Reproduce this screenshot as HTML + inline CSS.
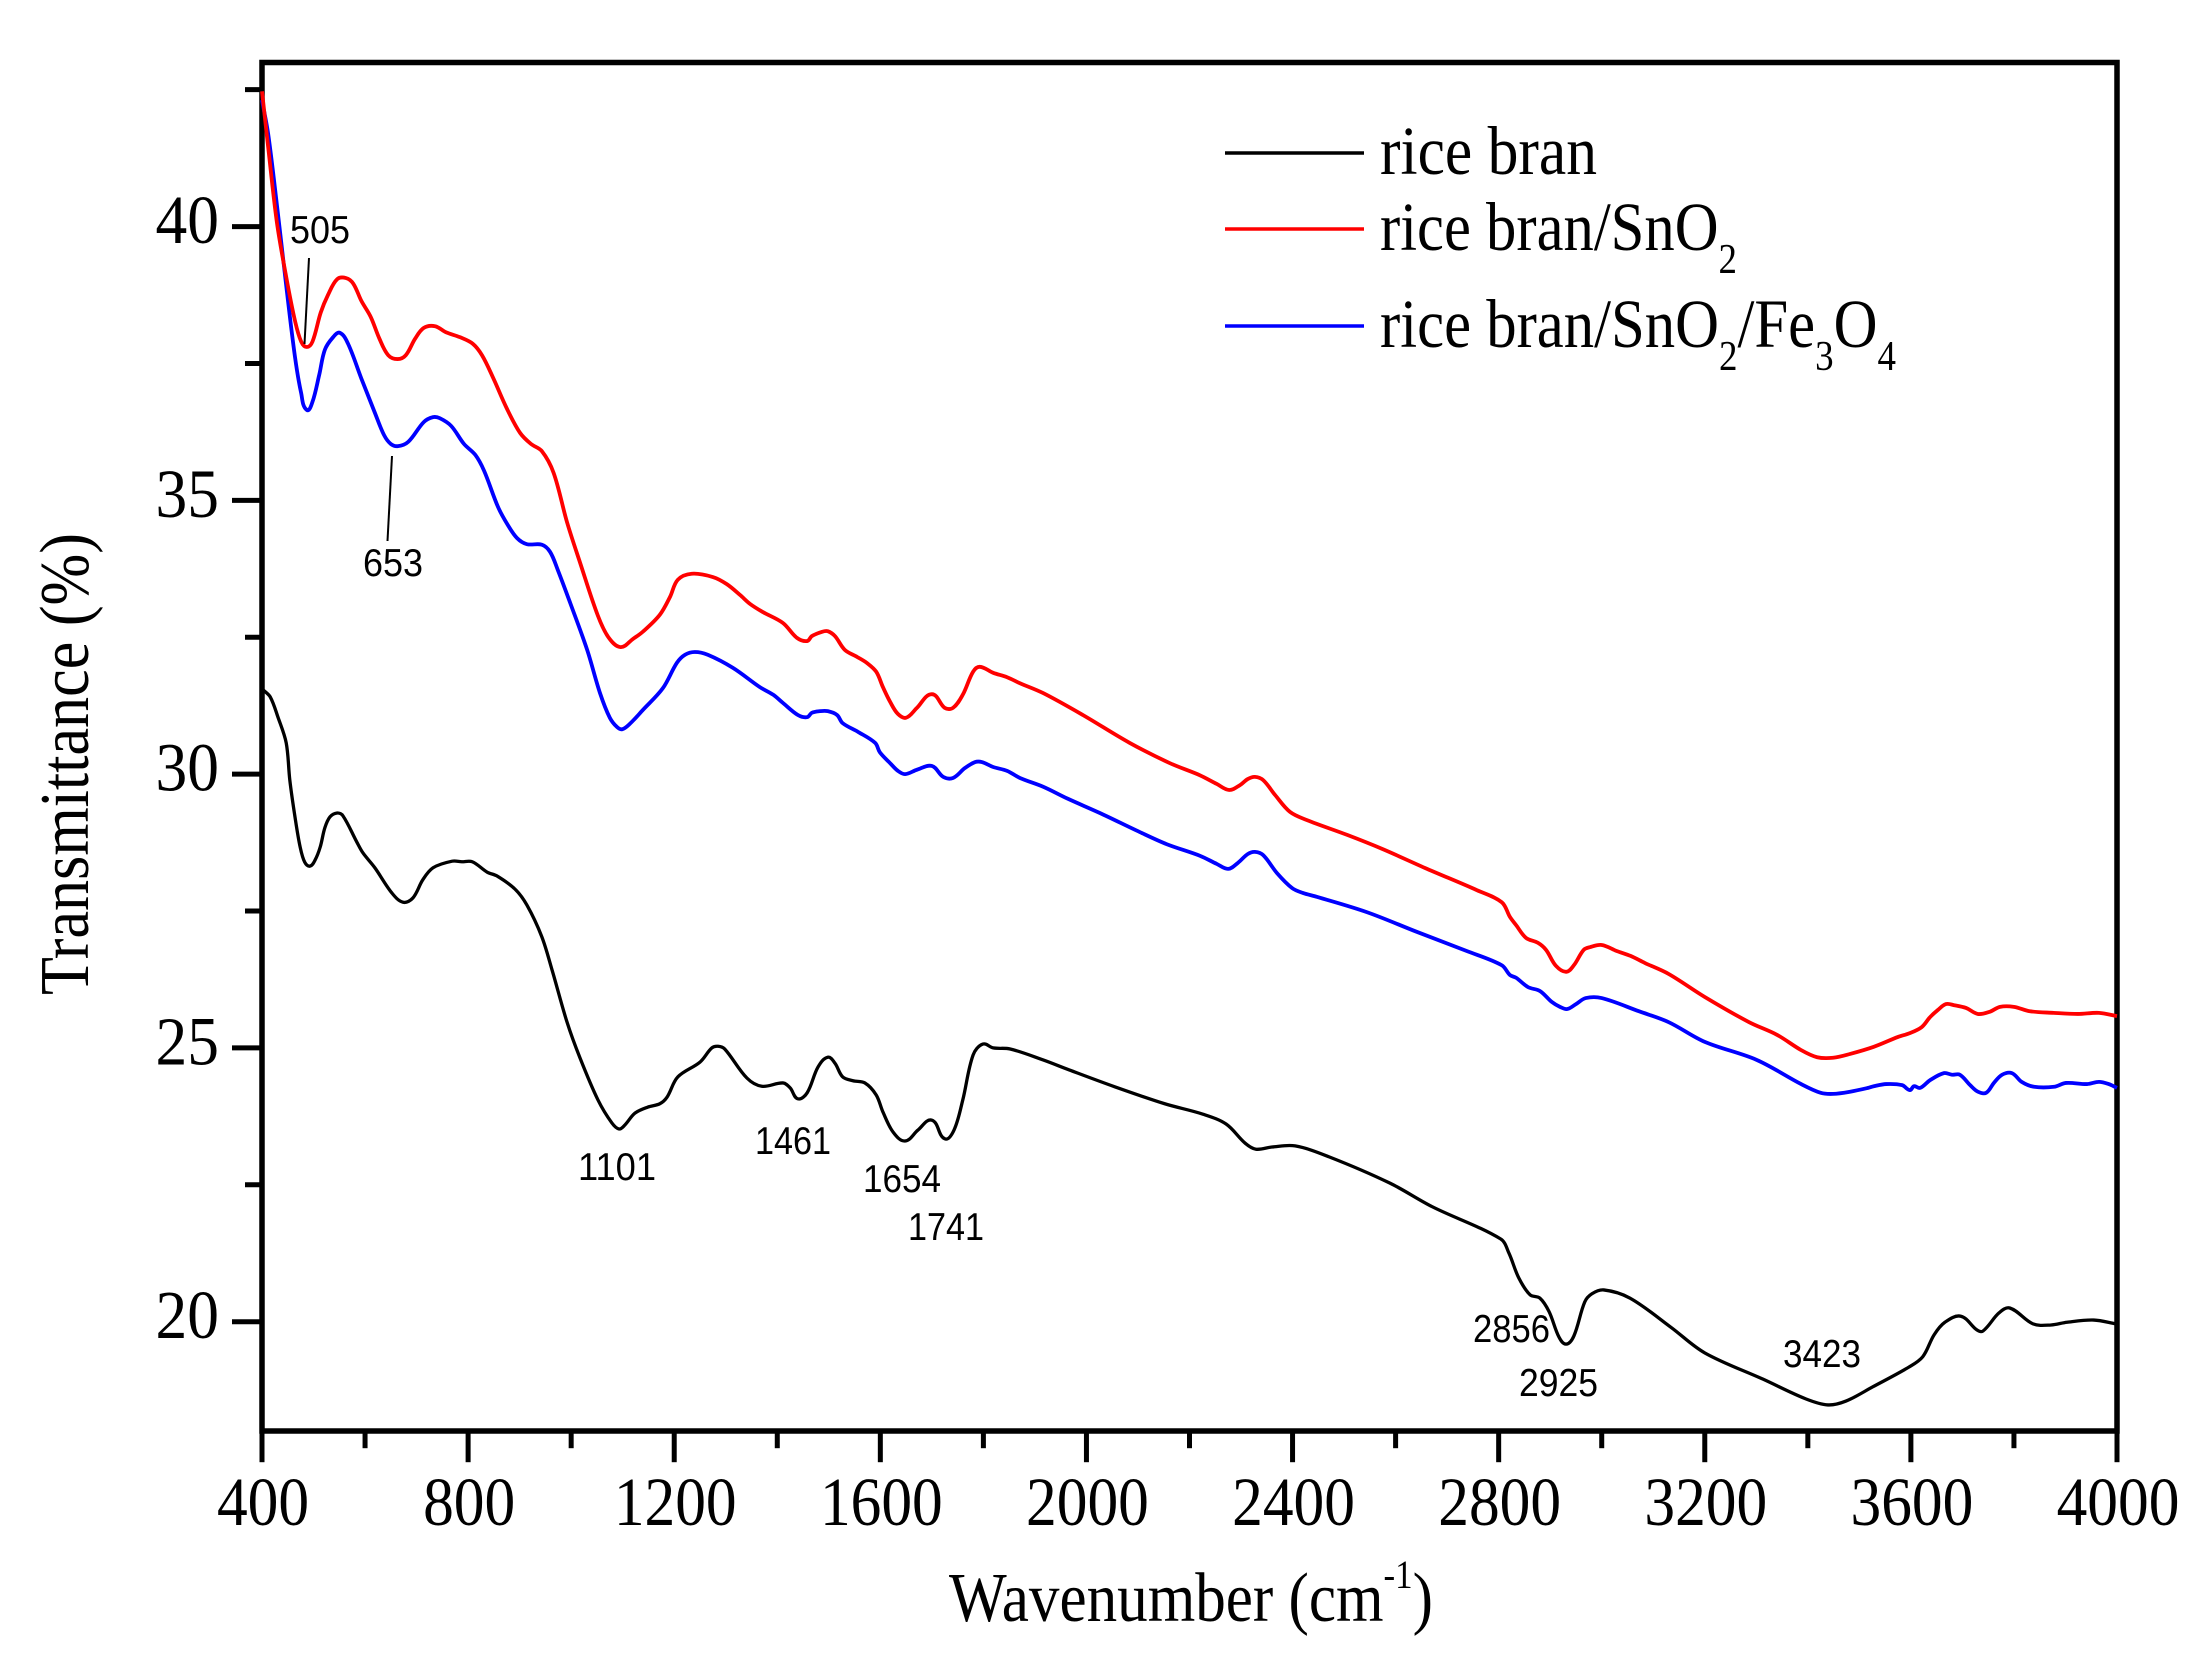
<!DOCTYPE html>
<html lang="en">
<head>
<meta charset="utf-8">
<title>FTIR transmittance spectra</title>
<style>
html,body{margin:0;padding:0;background:#fff;}
body{width:2205px;height:1674px;overflow:hidden;}
svg{display:block;}
.serif{font-family:"Liberation Serif","Times New Roman",serif;fill:#000;}
.sans{font-family:"Liberation Sans",Arial,sans-serif;fill:#000;font-size:39px;}
</style>
</head>
<body>
<svg id="chart" xmlns="http://www.w3.org/2000/svg" width="2205" height="1674" viewBox="0 0 2205 1674">
  <rect x="0" y="0" width="2205" height="1674" fill="#fff"/>
  <g id="ticks"></g>
  <g id="series"></g>
  <rect x="262" y="62.5" width="1855" height="1368.5" fill="none" stroke="#000" stroke-width="5.5"/>
  <g id="series-top"></g>

  <text class="serif" font-size="70" transform="translate(88,995) rotate(-90)" textLength="462" lengthAdjust="spacingAndGlyphs">Transmittance (%)</text>
  <text class="serif" font-size="70" x="949" y="1621" textLength="484" lengthAdjust="spacingAndGlyphs">Wavenumber (cm<tspan font-size="40" dy="-33">-1</tspan><tspan dy="33">)</tspan></text>

  <g>
    <g>
      <line x1="1225" x2="1364" y1="153" y2="153" stroke="#000" stroke-width="3.5"/>
      <text class="serif" font-size="69" x="1380" y="174" textLength="217" lengthAdjust="spacingAndGlyphs">rice bran</text>
    </g>
    <g>
      <line x1="1225" x2="1364" y1="229" y2="229" stroke="#f00" stroke-width="3.5"/>
      <text class="serif" font-size="69" x="1380" y="250" textLength="357" lengthAdjust="spacingAndGlyphs">rice bran/SnO<tspan font-size="42" dy="23">2</tspan></text>
    </g>
    <g>
      <line x1="1225" x2="1364" y1="326" y2="326" stroke="#00f" stroke-width="3.5"/>
      <text class="serif" font-size="69" x="1380" y="347" textLength="516" lengthAdjust="spacingAndGlyphs">rice bran/SnO<tspan font-size="42" dy="23">2</tspan><tspan dy="-23">/Fe</tspan><tspan font-size="42" dy="23">3</tspan><tspan dy="-23">O</tspan><tspan font-size="42" dy="23">4</tspan></text>
    </g>
  </g>

  <g>
    <line x1="309" y1="258" x2="304.5" y2="344" stroke="#000" stroke-width="2"/>
    <line x1="392" y1="456" x2="387.5" y2="541" stroke="#000" stroke-width="2"/>
    <text class="sans" x="290" y="243" textLength="60" lengthAdjust="spacingAndGlyphs">505</text>
    <text class="sans" x="363" y="576" textLength="60" lengthAdjust="spacingAndGlyphs">653</text>
    <text class="sans" x="578" y="1180" textLength="78" lengthAdjust="spacingAndGlyphs">1101</text>
    <text class="sans" x="755" y="1154" textLength="76" lengthAdjust="spacingAndGlyphs">1461</text>
    <text class="sans" x="863" y="1192" textLength="78" lengthAdjust="spacingAndGlyphs">1654</text>
    <text class="sans" x="908" y="1240" textLength="76" lengthAdjust="spacingAndGlyphs">1741</text>
    <text class="sans" x="1473" y="1342" textLength="77" lengthAdjust="spacingAndGlyphs">2856</text>
    <text class="sans" x="1519" y="1396" textLength="79" lengthAdjust="spacingAndGlyphs">2925</text>
    <text class="sans" x="1783" y="1367" textLength="78" lengthAdjust="spacingAndGlyphs">3423</text>
  </g>
</svg>
<script>
const xMajorTicks = [400, 800, 1200, 1600, 2000, 2400, 2800, 3200, 3600, 4000];
const xMinorTicks = [600, 1000, 1400, 1800, 2200, 2600, 3000, 3400, 3800];
const yMajorTicks = [20, 25, 30, 35, 40];
const yMinorTicks = [22.5, 27.5, 32.5, 37.5, 42.5];

const riceBranWavenumber = [402,416,431,447,454,464,474,483,493,503,513,522,532,546,557,584,596,619,652,674,693,712,732,769,788,808,837,856,891,914,943,963,992,1017,1052,1079,1093,1104,1124,1149,1172,1186,1207,1250,1273,1285,1298,1341,1370,1411,1425,1440,1458,1479,1498,1512,1527,1547,1570,1592,1605,1625,1648,1673,1700,1725,1743,1760,1780,1799,1819,1852,1916,1966,2055,2152,2226,2271,2308,2329,2360,2405,2471,2589,2671,2804,2820,2839,2861,2880,2898,2917,2931,2946,2967,2981,3004,3055,3134,3200,3313,3396,3439,3474,3526,3596,3623,3645,3666,3697,3728,3740,3771,3792,3837,3872,3903,3955,3998];
const riceBranValues = [31.54,31.41,31.04,30.57,29.89,29.22,28.67,28.39,28.32,28.43,28.67,29.02,29.22,29.29,29.24,28.76,28.56,28.29,27.83,27.66,27.74,28.07,28.29,28.41,28.40,28.40,28.21,28.14,27.90,27.61,27.03,26.42,25.47,24.82,24.05,23.63,23.52,23.59,23.81,23.92,23.98,24.10,24.47,24.74,25.00,25.03,24.98,24.45,24.30,24.36,24.27,24.07,24.18,24.65,24.83,24.72,24.47,24.40,24.36,24.14,23.83,23.46,23.30,23.50,23.68,23.34,23.50,24.05,24.87,25.07,25.00,24.98,24.78,24.60,24.29,23.98,23.79,23.61,23.26,23.15,23.19,23.21,23.01,22.53,22.10,21.51,21.25,20.80,20.49,20.43,20.18,19.72,19.59,19.74,20.36,20.51,20.58,20.43,19.90,19.43,18.95,18.59,18.48,18.55,18.81,19.17,19.36,19.76,19.99,20.10,19.85,19.83,20.16,20.25,19.96,19.94,19.99,20.03,19.96];

const riceBranSnO2Wavenumber = [400,412,429,447,464,476,487,498,514,528,546,563,577,593,611,628,645,663,679,697,714,736,757,784,809,827,848,875,901,922,943,966,992,1017,1052,1073,1096,1120,1139,1172,1192,1207,1234,1275,1302,1328,1347,1372,1411,1438,1458,1467,1487,1498,1512,1531,1555,1574,1592,1605,1619,1634,1650,1671,1700,1725,1741,1760,1780,1793,1819,1846,1871,1916,1993,2084,2162,2220,2253,2277,2298,2313,2327,2343,2366,2395,2428,2506,2575,2661,2758,2806,2822,2834,2853,2876,2892,2911,2931,2946,2965,2977,3000,3029,3056,3084,3130,3200,3286,3340,3387,3418,3449,3482,3528,3575,3598,3621,3637,3652,3668,3684,3707,3730,3753,3773,3800,3831,3877,3924,3965,4000];
const riceBranSnO2Values = [42.47,41.45,40.07,39.08,38.28,37.90,37.80,37.90,38.43,38.75,39.04,39.06,38.96,38.64,38.35,37.95,37.65,37.58,37.65,37.95,38.15,38.18,38.07,37.98,37.86,37.65,37.25,36.68,36.23,36.03,35.90,35.50,34.60,33.87,32.89,32.49,32.32,32.47,32.60,32.91,33.24,33.55,33.66,33.60,33.47,33.27,33.11,32.96,32.76,32.49,32.43,32.52,32.60,32.61,32.52,32.27,32.14,32.03,31.87,31.59,31.32,31.10,31.03,31.21,31.46,31.21,31.21,31.45,31.87,31.96,31.85,31.77,31.66,31.48,31.08,30.57,30.20,29.98,29.82,29.71,29.80,29.91,29.95,29.89,29.62,29.31,29.16,28.89,28.63,28.27,27.88,27.66,27.39,27.24,27.01,26.92,26.79,26.50,26.39,26.51,26.79,26.84,26.88,26.77,26.68,26.55,26.35,25.93,25.47,25.24,24.96,24.83,24.82,24.89,25.02,25.20,25.27,25.38,25.56,25.69,25.80,25.78,25.73,25.62,25.66,25.75,25.75,25.67,25.64,25.62,25.64,25.58];

const riceBranSnO2Fe3O4Wavenumber = [400,412,429,447,464,476,487,498,511,522,538,551,567,593,619,637,650,664,684,714,732,745,767,792,814,831,858,877,895,914,943,959,974,998,1031,1056,1075,1089,1099,1114,1139,1178,1205,1221,1240,1265,1314,1366,1392,1411,1440,1458,1467,1483,1498,1516,1527,1557,1590,1599,1619,1634,1648,1671,1700,1722,1741,1764,1784,1797,1819,1846,1871,1916,1964,2026,2104,2156,2220,2253,2275,2294,2313,2327,2343,2370,2399,2420,2447,2544,2641,2738,2806,2822,2834,2857,2880,2903,2919,2933,2950,2969,3000,3072,3130,3200,3301,3387,3425,3449,3482,3517,3528,3552,3583,3598,3606,3618,3637,3664,3680,3695,3715,3730,3746,3761,3777,3796,3815,3839,3878,3901,3942,3965,3984,4000];
const riceBranSnO2Fe3O4Values = [42.31,41.69,40.39,38.92,37.62,36.96,36.65,36.80,37.29,37.75,37.98,38.06,37.86,37.22,36.60,36.19,36.03,35.99,36.07,36.43,36.52,36.50,36.36,36.03,35.83,35.54,34.88,34.55,34.31,34.20,34.19,34.06,33.73,33.13,32.27,31.48,31.03,30.86,30.82,30.92,31.17,31.57,32.03,32.18,32.23,32.18,31.94,31.59,31.45,31.30,31.08,31.04,31.12,31.15,31.15,31.08,30.93,30.77,30.57,30.40,30.20,30.06,30.00,30.08,30.15,29.95,29.93,30.11,30.22,30.22,30.13,30.06,29.93,29.77,29.55,29.29,28.94,28.72,28.51,28.36,28.27,28.38,28.54,28.58,28.52,28.19,27.92,27.83,27.76,27.48,27.12,26.77,26.51,26.33,26.28,26.11,26.04,25.84,25.75,25.71,25.80,25.91,25.91,25.67,25.47,25.11,24.78,24.34,24.18,24.16,24.20,24.27,24.30,24.34,24.32,24.23,24.30,24.27,24.41,24.54,24.51,24.51,24.32,24.20,24.18,24.36,24.51,24.54,24.38,24.29,24.29,24.36,24.34,24.38,24.34,24.27];

const NS = 'http://www.w3.org/2000/svg';
const plotLeft = 262, plotRight = 2117, plotTop = 62.3, plotBottom = 1431.2;
const xMin = 400, xMax = 4000, yMin = 18, yMax = 43;

function xScale(v) { return plotLeft + (v - xMin) / (xMax - xMin) * (plotRight - plotLeft); }
function yScale(v) { return plotBottom - (v - yMin) / (yMax - yMin) * (plotBottom - plotTop); }

function smoothPath(xs, ys) {
  const p = xs.map(function (x, i) { return [xScale(x), yScale(ys[i])]; });
  let d = 'M' + p[0][0].toFixed(2) + ' ' + p[0][1].toFixed(2);
  for (let i = 0; i < p.length - 1; i++) {
    const a = p[Math.max(i - 1, 0)], b = p[i], c = p[i + 1], e = p[Math.min(i + 2, p.length - 1)];
    const seg = Math.hypot(c[0] - b[0], c[1] - b[1]);
    const d1 = Math.hypot(c[0] - a[0], c[1] - a[1]) || 1;
    const d2 = Math.hypot(e[0] - b[0], e[1] - b[1]) || 1;
    const k1 = seg / d1 / 3;
    const k2 = seg / d2 / 3;
    d += 'C' + (b[0] + (c[0] - a[0]) * k1).toFixed(2) + ' ' + (b[1] + (c[1] - a[1]) * k1).toFixed(2) + ' ' +
         (c[0] - (e[0] - b[0]) * k2).toFixed(2) + ' ' + (c[1] - (e[1] - b[1]) * k2).toFixed(2) + ' ' +
         c[0].toFixed(2) + ' ' + c[1].toFixed(2);
  }
  return d;
}

const ticksGroup = document.getElementById('ticks');
const seriesGroup = document.getElementById('series');

xMajorTicks.forEach(function (v) {
  const tick = document.createElementNS(NS, 'line');
  
  
  tick.setAttribute('x1', xScale(v));
  tick.setAttribute('x2', xScale(v));
  tick.setAttribute('y1', plotBottom);
  tick.setAttribute('y2', plotBottom + 31);
  tick.setAttribute('stroke', '#000');
  tick.setAttribute('stroke-width', '5');
  ticksGroup.appendChild(tick);
  const label = document.createElementNS(NS, 'text');
  
  
  label.setAttribute('class', 'serif');
  label.setAttribute('font-size', '69');
  label.setAttribute('text-anchor', 'middle');
  label.setAttribute('transform', 'translate(' + (xScale(v) + 1) + ',1525) scale(0.89,1)');
  label.textContent = String(v);
  ticksGroup.appendChild(label);
});

xMinorTicks.forEach(function (v) {
  const tick = document.createElementNS(NS, 'line');
  
  
  tick.setAttribute('x1', xScale(v));
  tick.setAttribute('x2', xScale(v));
  tick.setAttribute('y1', plotBottom);
  tick.setAttribute('y2', plotBottom + 17);
  tick.setAttribute('stroke', '#000');
  tick.setAttribute('stroke-width', '5');
  ticksGroup.appendChild(tick);
});

yMajorTicks.forEach(function (v) {
  const tick = document.createElementNS(NS, 'line');
  
  
  tick.setAttribute('x1', plotLeft - 30);
  tick.setAttribute('x2', plotLeft);
  tick.setAttribute('y1', yScale(v));
  tick.setAttribute('y2', yScale(v));
  tick.setAttribute('stroke', '#000');
  tick.setAttribute('stroke-width', '5');
  ticksGroup.appendChild(tick);
  const label = document.createElementNS(NS, 'text');
  
  
  label.setAttribute('class', 'serif');
  label.setAttribute('font-size', '69');
  label.setAttribute('text-anchor', 'end');
  label.setAttribute('transform', 'translate(219,' + (yScale(v) + 16.5) + ') scale(0.92,1)');
  label.textContent = String(v);
  ticksGroup.appendChild(label);
});

yMinorTicks.forEach(function (v) {
  const tick = document.createElementNS(NS, 'line');
  
  
  tick.setAttribute('x1', plotLeft - 17);
  tick.setAttribute('x2', plotLeft);
  tick.setAttribute('y1', yScale(v));
  tick.setAttribute('y2', yScale(v));
  tick.setAttribute('stroke', '#000');
  tick.setAttribute('stroke-width', '5');
  ticksGroup.appendChild(tick);
});

const blackLine = document.createElementNS(NS, 'path');


blackLine.setAttribute('d', smoothPath(riceBranWavenumber, riceBranValues));
blackLine.setAttribute('fill', 'none');
blackLine.setAttribute('stroke', '#000');
blackLine.setAttribute('stroke-width', '3.3');
blackLine.setAttribute('stroke-linejoin', 'round');
seriesGroup.appendChild(blackLine);

const topGroup = document.getElementById('series-top');

const blueLine = document.createElementNS(NS, 'path');


blueLine.setAttribute('d', smoothPath(riceBranSnO2Fe3O4Wavenumber, riceBranSnO2Fe3O4Values));
blueLine.setAttribute('fill', 'none');
blueLine.setAttribute('stroke', '#00f');
blueLine.setAttribute('stroke-width', '3.8');
blueLine.setAttribute('stroke-linejoin', 'round');
topGroup.appendChild(blueLine);

const redLine = document.createElementNS(NS, 'path');


redLine.setAttribute('d', smoothPath(riceBranSnO2Wavenumber, riceBranSnO2Values));
redLine.setAttribute('fill', 'none');
redLine.setAttribute('stroke', '#f00');
redLine.setAttribute('stroke-width', '3.8');
redLine.setAttribute('stroke-linejoin', 'round');
topGroup.appendChild(redLine);
</script>
</body>
</html>
